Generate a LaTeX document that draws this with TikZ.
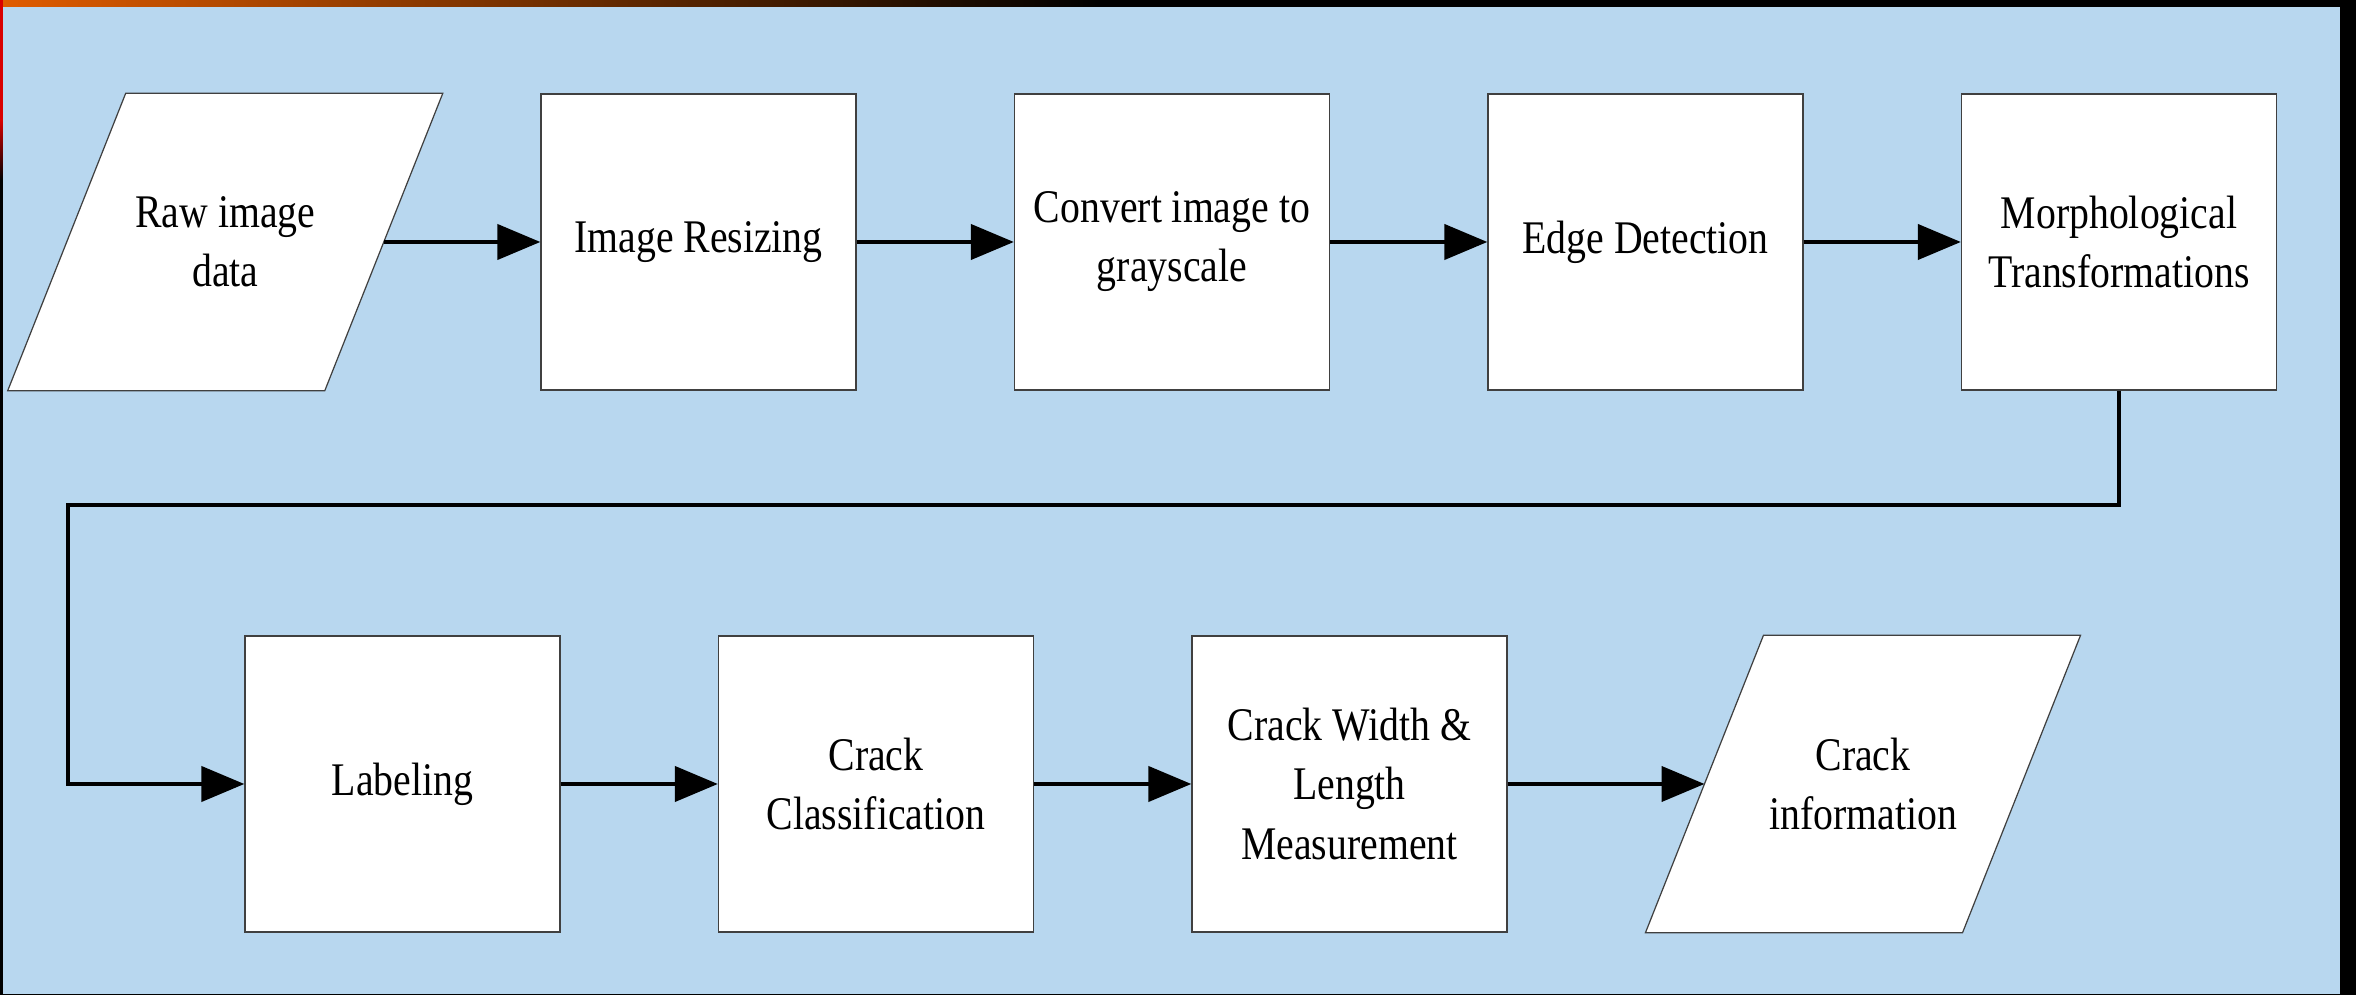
\documentclass[tikz,border=0pt]{standalone}
\usepackage{fontspec}
\setmainfont{Liberation Serif}[FakeStretch=0.85]
\usetikzlibrary{arrows.meta,positioning}
\pgfdeclarelayer{bg}
\pgfdeclarelayer{shapes}
\pgfsetlayers{bg,shapes,main}
\definecolor{skyblue}{HTML}{B8D7EF}
\definecolor{borderc}{HTML}{404040}
\definecolor{topor}{HTML}{E05C00}
\begin{document}
\begin{tikzpicture}[x=0.01cm,y=-0.01cm,
  txt/.style={font=\fontsize{13.3pt}{16.8pt}\selectfont, align=center, inner sep=0pt},
  box/.style={txt, draw=borderc, line width=0.35pt, fill=white, minimum width=3.15cm, minimum height=2.96cm},
  paranode/.style={txt, minimum width=3.155cm, minimum height=2.96cm},
  parashape/.style={draw=borderc, line width=0.35pt, fill=white},
  arr/.style={line width=1pt, -{Triangle[length=12.2pt,width=10pt]}}]
\begin{pgfonlayer}{bg}
\useasboundingbox (0,0) rectangle (2356,995);
\fill[black] (0,0) rectangle (2356,995);
\shade[left color=topor, right color=black] (0,0) rectangle (1100,7);
\fill[red!85!black] (0,0) rectangle (3,120);
\shade[top color=red!85!black, bottom color=black] (0,120) rectangle (3,180);
\fill[skyblue] (3,7) rectangle (2340,994);
\end{pgfonlayer}

% top row
\node[paranode] (raw) at (225.25,242) {Raw image\\data};
\node[box] (resize) at (698.5,242) {Image Resizing};
\node[box] (convert) at (1172,242) {Convert image to\\grayscale};
\node[box] (edge) at (1645.5,242) {Edge Detection};
\node[box] (morph) at (2119,242) {Morphological\\Transformations};

% bottom row
\node[box] (label) at (402.5,784) {Labeling};
\node[box] (class) at (876,784) {Crack\\Classification};
\node[box] (width) at (1349.5,784) {Crack Width \&\\Length\\Measurement};
\node[paranode] (info) at (1863,784) {Crack\\information};

\begin{pgfonlayer}{shapes}
\foreach \n in {raw,info}{
  \draw[parashape] ([xshift=0.59cm]\n.north west) -- ([xshift=0.59cm]\n.north east)
    -- ([xshift=-0.59cm]\n.south east) -- ([xshift=-0.59cm]\n.south west) -- cycle;
}
\end{pgfonlayer}

\coordinate (bend) at (68,505);

\draw[arr] (raw.east) -- (resize.west);
\draw[arr] (resize.east) -- (convert.west);
\draw[arr] (convert.east) -- (edge.west);
\draw[arr] (edge.east) -- (morph.west);
\draw[arr] (morph.south) |- (bend) |- (label.west);
\draw[arr] (label.east) -- (class.west);
\draw[arr] (class.east) -- (width.west);
\draw[arr] (width.east) -- (info.west);
\end{tikzpicture}
\end{document}
